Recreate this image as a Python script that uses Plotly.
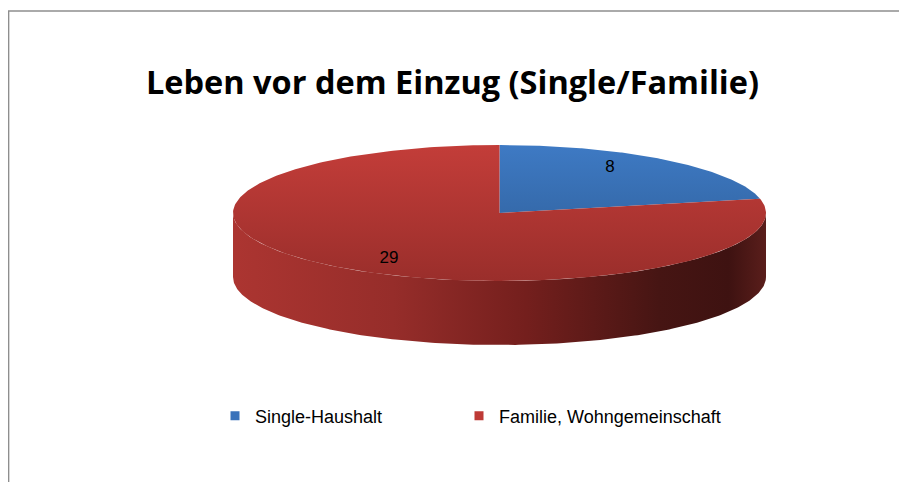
import numpy as np
import plotly.graph_objects as go

# ---- data ----
categories = ["Single-Haushalt", "Familie, Wohngemeinschaft"]
values = [8, 29]
label_texts = ["8", "29"]
title_text = "Leben vor dem Einzug (Single/Familie)"

# ---- style ----
top_scales = [
    [[0, "#3E7AC4"], [1, "#2C5A92"]],
    [[0, "#C33D39"], [1, "#9A2E2B"]],
]
side_scales = [
    [[0, "#2E5C94"], [1, "#14294A"]],
    [[0, "#AC3531"], [0.3, "#962D2A"], [0.55, "#741F1D"], [0.8, "#461513"], [0.93, "#3E1211"], [1, "#5A1E1B"]],
]
legend_colors = ["#3A72BA", "#BE3A36"]
legend_left = [215, 459]  # window px of each legend box

W, H = 907, 482
OFF = 8  # page body margin: figure sits 8px from window edge
CX, CY, RX, RY, DEPTH = 499.5, 213.0, 266.5, 68.0, 64.0


def px(xw):
    return (xw - OFF) / W


def py(yw):
    return 1 - (yw - OFF) / H


def ell(theta_deg, dy=0.0):
    t = np.radians(theta_deg)
    return CX + RX * np.sin(t), CY - RY * np.cos(t) + dy


total = float(sum(values))
fr = [v / total for v in values]
starts = np.concatenate([[0], np.cumsum(fr)[:-1]]) * 360
ends = np.cumsum(fr) * 360

fig = go.Figure()

# side walls (front half: 90..270 deg)
for i in range(len(values)):
    a0, a1 = max(starts[i], 90), min(ends[i], 270)
    if a1 <= a0:
        continue
    th = np.linspace(a0, a1, 240)
    xt, yt = ell(th)
    xb, yb = ell(th[::-1], DEPTH)
    xs = np.concatenate([xt, xb, xt[:1]])
    ys = np.concatenate([yt, yb, yt[:1]])
    fig.add_trace(go.Scatter(
        x=xs, y=ys, mode="lines", fill="toself", line=dict(width=0),
        fillgradient=dict(type="horizontal", colorscale=side_scales[i],
                          start=CX - RX, stop=CX + RX),
        showlegend=False, hoverinfo="skip"))

# top faces
for i in range(len(values)):
    th = np.linspace(starts[i], ends[i], 300)
    xe, ye = ell(th)
    xs = np.concatenate([[CX], xe, [CX]])
    ys = np.concatenate([[CY], ye, [CY]])
    fig.add_trace(go.Scatter(
        x=xs, y=ys, mode="lines", fill="toself", line=dict(width=0),
        fillgradient=dict(type="vertical", colorscale=top_scales[i],
                          start=CY - RY, stop=CY + RY),
        showlegend=False, hoverinfo="skip"))

# data labels at mid angles
mids = (starts + ends) / 2
lx = CX + RX * 0.66 * np.sin(np.radians(mids))
ly = CY - RY * 0.86 * np.cos(np.radians(mids))
fig.add_trace(go.Scatter(
    x=lx, y=ly, mode="text", text=label_texts,
    textfont=dict(family="Liberation Sans, Arial, sans-serif", size=17, color="#000000"),
    showlegend=False, hoverinfo="skip"))

# legend entries, one legend box per category
legend_names = ["legend", "legend2"]
for i, c in enumerate(categories):
    fig.add_trace(go.Scatter(
        x=[None], y=[None], mode="markers", name=c, legend=legend_names[i],
        marker=dict(symbol="square", size=9, color=legend_colors[i])))

legend_common = dict(orientation="h", xanchor="left", yanchor="middle",
                     font=dict(family="Liberation Sans, Arial, sans-serif", size=18, color="#000000"),
                     bgcolor="rgba(0,0,0,0)")

fig.update_layout(
    width=W, height=H,
    margin=dict(l=0, r=0, t=0, b=0),
    paper_bgcolor="white", plot_bgcolor="white",
    xaxis=dict(range=[OFF, W + OFF], visible=False, fixedrange=True),
    yaxis=dict(range=[H + OFF, OFF], visible=False, fixedrange=True),
    title=dict(text=title_text, x=px(452.5), y=py(83),
               xanchor="center", yanchor="middle",
               font=dict(family="Liberation Sans Narrow, Open Sans, sans-serif",
                         size=32.5, color="#000000", weight="bold")),
    legend=dict(x=px(legend_left[0]), y=py(416), **legend_common),
    legend2=dict(x=px(legend_left[1]), y=py(416), **legend_common),
    shapes=[dict(type="rect", xref="paper", yref="paper",
                 x0=0.6 / W, x1=1.05, y0=-0.05, y1=1 - 3 / H,
                 line=dict(color="#8E8E8E", width=1.5))],
    showlegend=True,
)

fig.write_html("out.html")
